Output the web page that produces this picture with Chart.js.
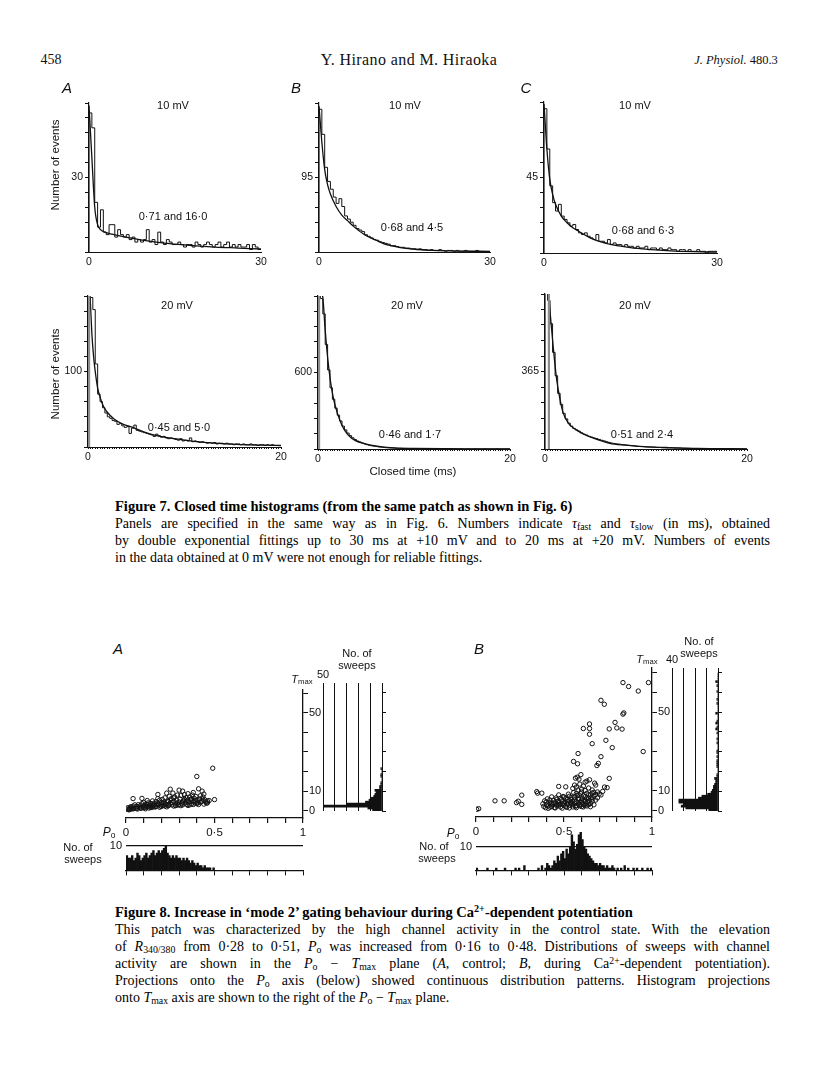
<!DOCTYPE html>
<html>
<head>
<meta charset="utf-8">
<script src="https://cdn.jsdelivr.net/npm/chart.js@4.4.1/dist/chart.umd.min.js"></script>
<style>
  body { margin: 0; background: #fff; }
  #page { position: relative; width: 816px; height: 1088px; overflow: hidden; background: #fff;
          font-family: 'Liberation Sans', Arial, sans-serif; color: #111; }
  #page canvas { position: absolute; }
  .t { position: absolute; white-space: nowrap; line-height: 1; }
  .cap { position: absolute; left: 115px; width: 655px; font-family: 'Liberation Serif', 'Times New Roman', serif;
         font-size: 14px; line-height: 17px; color: #000; }
  .cap div { text-align: justify; text-align-last: justify; height: 17px; }
  .cap div.last { text-align-last: left; }
  .cap b { font-weight: bold; font-size: 14.5px; }
  sub { font-size: 0.7em; line-height: 0; vertical-align: -0.25em; }
  sup { font-size: 0.7em; line-height: 0; vertical-align: 0.45em; }
</style>
</head>
<body>
<div id="page"></div>
<script>
/* ===================== DATA ===================== */

// Figure 7: closed time histograms, counts per bin
const BIN_10MV = 0.5;   // ms per bin, 0-30 ms panels
const BIN_20MV = 0.25;  // ms per bin, 0-20 ms panels

const HIST_A10 = [56,50,20,10,17,8,7,11,11,6, 9,7,6,7,5,6,4,5,4,5, 9,4,5,3,8,4,3,5,4,3,
                  3,4,3,2,3,3,2,4,3,2, 3,4,3,2,3,4,2,3,4,2, 3,2,3,2,2,3,1,3,2,1];
const HIST_B10 = [182,150,108,90,80,70,62,68,58,46, 42,38,34,30,28,26,22,20,18,16, 15,13,12,11,10,8,8,7,6,6,
                  5,5,4,4,3,4,3,3,2,3, 2,2,3,2,1,2,2,1,2,1, 1,2,1,1,1,2,1,1,1,1];
const HIST_C10 = [86,62,40,30,25,29,22,20,18,16, 17,14,12,11,12,10,9,8,11,7, 7,6,8,5,6,5,5,4,5,4,
                  4,3,4,3,3,4,2,3,3,2, 3,2,2,3,2,2,1,2,2,1, 2,1,1,2,1,1,0,1,1,1];
const HIST_A20 = [190,198,182,110,70,60,52,45,40,38, 35,34,30,31,28,26,27,18,25,29, 22,21,20,19,18,17,16,14,17,15,
                  13,14,12,11,12,11,10,9,11,8, 9,8,12,7,8,7,6,7,6,5, 6,5,6,4,5,5,4,5,4,4,
                  3,4,4,3,4,3,3,4,3,3, 2,3,3,2,3,2,3,2,2,2];
const HIST_B20 = [1250,1180,1060,820,620,480,390,320,265,220, 180,150,125,105,88,75,63,55,47,40,
                  34,29,25,22,19,16,14,12,10,9, 8,7,6,5,5,4,4,3,3,3, 2,2,2,2,1,2,1,1,1,1,
                  1,1,1,0,1,1,0,1,0,1, 0,0,1,0,0,1,0,0,0,1, 0,0,0,0,1,0,0,0,0,0];
const HIST_C20 = [760,700,590,455,345,262,210,168,142,122, 108,97,90,84,76,70,66,60,56,52,
                  49,45,41,38,34,31,28,26,24,23, 21,20,18,17,16,15,13,12,12,11, 10,9,9,8,7,7,6,6,5,5,
                  5,4,4,4,3,3,3,3,2,2, 2,2,2,2,1,1,1,1,1,1, 1,1,1,1,1,0,1,0,1,0];

// grey first-bin spikes of the 20 mV panels (bin index, count)
const SPIKE_BIN_20 = [0, 0, 1];
const SPIKE_VAL_20 = [240, 1300, 800];

// double exponential fits (ms, events)
const FIT_X_A10 = [0,0.5,1,1.5,2,3,4,6,9,12,15,18,22,26,30];
const FIT_Y_A10 = [59,38,18,11,9,7.8,7.2,6.2,4.9,3.9,3.2,2.6,2.0,1.6,1.2];
const FIT_X_B10 = [0,0.5,1,1.5,2,3,4,5,6,8,10,12,14,17,20,25,30];
const FIT_Y_B10 = [186,140,105,86,74,58,47,40,33,22,15,9,6,3.5,2,1,0.5];
const FIT_X_C10 = [0,0.5,1,1.5,2,3,4,5,6,8,10,12,15,18,22,26,30];
const FIT_Y_C10 = [89,62,44,35,29,22,18,15,13,9,6.5,4.8,3.2,2.2,1.3,0.8,0.5];
const FIT_X_A20 = [0.2,0.4,0.6,0.8,1,1.3,1.6,2,2.7,3.5,4.4,5,6,7,9,11,13,16,20];
const FIT_Y_A20 = [205,150,117,95,78,64,54,46,37,31,27,24,19,15.5,11,7.5,5,3.2,2];
const FIT_X_B20 = [0.3,0.5,0.75,1,1.3,1.6,2,2.5,3,3.5,4,4.75,5.5,6.5,8,10,13,16,20];
const FIT_Y_B20 = [1230,1190,930,720,530,400,285,185,123,85,62,44,30,18,9,5,2,1,0.5];
const FIT_X_C20 = [0.3,0.5,0.8,1.15,1.5,1.8,2.3,3.1,4,4.8,5.6,6.4,8,9.7,12,15,20];
const FIT_Y_C20 = [760,646,487,329,230,170,122,90,66,51,38,27,18,11,7,3,1];

// axis ranges / labelled ticks
const Y_MAX_10 = [60, 190, 90];
const Y_TICK_10 = [30, 95, 45];
const Y_MAX_20 = [200, 1200, 730];
const Y_TICK_20 = [100, 600, 365];
const FITS_10 = ['0·71 and 16·0', '0·68 and 4·5', '0·68 and 6·3'];
const FITS_20 = ['0·45 and 5·0', '0·46 and 1·7', '0·51 and 2·4'];

// Figure 8: sweeps in the Po - Tmax plane  [Po, Tmax]
const SWEEPS_A = [
  [0.005,0.8],[0.01,1.5],[0.015,0.5],[0.02,1.2],[0.025,2.0],[0.03,0.9],[0.035,1.6],[0.04,2.4],[0.045,1.1],[0.05,3.0],[0.04,6.2],[0.03,1.9],
  [0.055,1.4],[0.06,2.2],[0.065,0.9],[0.07,3.1],[0.075,1.8],[0.08,2.6],[0.085,1.2],[0.09,3.6],[0.095,2.0],[0.1,1.5],[0.09,6.3],[0.1,4.2],
  [0.105,2.8],[0.11,1.7],[0.115,3.4],[0.12,2.1],[0.125,4.0],[0.13,1.4],[0.135,2.9],[0.14,3.7],[0.145,2.2],[0.15,5.0],[0.12,5.2],[0.14,1.6],
  [0.155,2.6],[0.16,3.9],[0.165,1.9],[0.17,4.6],[0.175,2.9],[0.18,8.3],[0.185,3.3],[0.19,5.4],[0.195,2.4],[0.2,4.1],[0.18,6.2],[0.2,3.0],[0.17,2.2],
  [0.205,5.8],[0.21,2.7],[0.215,4.4],[0.22,6.6],[0.225,3.2],[0.23,9.0],[0.235,5.0],[0.24,2.6],[0.245,7.4],[0.25,11.0],[0.25,3.8],[0.22,3.6],[0.24,4.7],
  [0.255,6.1],[0.26,3.0],[0.265,9.0],[0.27,4.9],[0.275,7.0],[0.28,3.4],[0.285,5.6],[0.29,8.0],[0.295,2.9],[0.30,10.5],[0.3,4.5],[0.27,6.5],
  [0.305,6.0],[0.31,7.8],[0.315,3.6],[0.32,10.0],[0.325,5.1],[0.33,8.2],[0.335,4.0],[0.34,6.7],[0.345,3.2],[0.35,8.7],[0.35,5.5],[0.32,4.6],
  [0.355,4.3],[0.36,7.0],[0.365,5.8],[0.37,3.5],[0.375,8.0],[0.38,4.8],[0.385,6.4],[0.39,3.9],[0.395,7.3],[0.40,17.5],[0.40,5.5],[0.38,9.3],
  [0.405,4.2],[0.41,11.2],[0.415,6.0],[0.42,7.6],[0.43,10.0],[0.43,4.9],[0.435,7.0],[0.44,8.5],[0.445,5.6],[0.45,4.5],[0.455,3.9],[0.46,4.0],
  [0.47,5.2],[0.49,21.7],[0.50,5.7],
  [0.02,0.6],[0.04,1.0],[0.06,1.2],[0.08,1.6],[0.1,2.4],[0.12,2.9],[0.14,2.6],[0.16,2.8],[0.18,3.6],[0.2,2.2],[0.22,2.4],[0.24,3.2],
  [0.26,4.2],[0.28,2.6],[0.3,3.2],[0.32,3.0],[0.34,5.0],[0.36,3.0],[0.38,3.2],[0.4,3.6],[0.42,4.3],[0.44,3.4],[0.46,5.0],[0.11,1.0],
  [0.13,2.3],[0.15,1.8],[0.17,3.3],[0.19,1.8],[0.21,3.8],[0.23,2.0],[0.25,5.4],[0.27,2.4],[0.29,4.0],[0.31,2.6],[0.33,5.8],[0.35,2.7],
  [0.37,6.0],[0.39,5.0],[0.41,3.2],[0.43,6.0]
];
const SWEEPS_B = [
  [0.98,65],[0.835,65],[0.867,63],[0.922,60.7],[0.71,56],[0.729,54],[0.835,49],[0.84,49.6],[0.79,44.8],[0.645,44],[0.645,41.7],[0.645,38.8],
  [0.61,41.7],[0.80,42],[0.757,41.5],[0.83,41.4],[0.738,35.7],[0.66,34],[0.774,32],[0.95,30],[0.58,29],[0.71,27.4],[0.554,25],[0.577,23.8],
  [0.695,24],[0.687,22.9],[0.596,18.3],[0.757,16.4],[0.645,15.7],[0.565,16.5],[0.575,17],[0.585,16],[0.62,14.5],[0.63,15],[0.674,14],[0.68,13],
  [0.73,12],[0.745,11.7],[0.47,12.3],[0.51,12.1],[0.345,9.7],[0.35,8.9],[0.374,8.9],[0.26,7.9],[0.23,4.1],[0.24,4.8],[0.26,3.2],[0.16,5],
  [0.108,5],[0.004,0.7],[0.015,1],
  [0.56,13],[0.57,12],[0.59,13.5],[0.60,11],[0.61,12.5],[0.64,11.5],[0.66,10.5],[0.69,9.5],[0.70,8.5],[0.68,8.2],[0.66,9],[0.72,9.8],
  [0.71,8],[0.62,10.2],[0.58,10.5],[0.55,11.3],
  [0.38,3.5],[0.385,2.2],[0.39,5],[0.395,1.5],[0.40,3],[0.405,6],[0.41,2.5],[0.415,4.2],[0.42,1.8],[0.425,3.6],[0.43,7],[0.435,2.9],
  [0.44,5.3],[0.445,1.6],[0.45,3.9],[0.455,6.5],[0.46,2.4],[0.465,4.7],[0.47,8],[0.475,3.1],[0.48,1.9],[0.485,5.6],[0.49,3.5],[0.495,7.2],
  [0.50,2.6],[0.505,4.4],[0.51,6.3],[0.515,1.7],[0.52,3.3],[0.525,8.4],[0.53,5],[0.535,2.7],[0.54,4.1],[0.545,6.8],[0.55,3],[0.555,9.2],
  [0.56,5.5],[0.565,2.2],[0.57,4.6],[0.575,7.5],[0.58,3.4],[0.585,5.9],[0.59,2.5],[0.595,8.6],[0.60,4.3],[0.605,6.2],[0.61,3.1],[0.615,5],
  [0.62,7.1],[0.625,3.8],[0.63,6],[0.635,4.5],[0.64,8.1],[0.645,5.2],[0.65,3.6],[0.655,6.7],[0.66,4.8],[0.67,7.5],[0.68,5.4],[0.69,6.5],
  [0.40,4.5],[0.43,3.8],[0.46,5.8],[0.49,4.9],[0.52,5.7],[0.55,4.8],[0.58,6.3],[0.61,7.6],[0.64,6.4],[0.47,2.9],[0.50,6.9],[0.53,7.3],
  [0.56,3.9],[0.59,4.2],[0.62,2.7],[0.44,4],[0.57,8.7],[0.60,9.5],[0.65,8],[0.67,9.3],
  [0.41,1.2],[0.43,2.1],[0.45,1.4],[0.47,4.1],[0.49,1.3],[0.51,2.2],[0.53,1.4],[0.55,1.9],[0.57,1.5],[0.59,3.2],[0.61,1.9],[0.63,2.4],
  [0.65,2.0],[0.67,3.0],[0.5,3.8],[0.52,4.6],[0.54,5.8],[0.56,6.9],[0.58,7.8],[0.6,5.3],[0.62,4.8],[0.63,8.8],[0.66,5.9],[0.48,6.3],
  [0.46,3.3],[0.42,5.4],[0.54,3.5],[0.57,2.6],[0.6,2.1],[0.64,3]
];

// projections onto Po (0.01 bins) and Tmax (1 ms bins)
const PO_BIN = 0.01;
const PO_HIST_A = [6,5,5,6,4,5,7,6,4,5, 6,7,5,6,7,8,6,7,8,7, 8,9,10,7,6,5,6,5,6,5,
                   5,4,5,4,5,4,3,4,3,2, 3,2,2,1,2,1,1,1,0,1];
const PO_HIST_B = [1,0,0,0,0,0,1,0,0,0, 0,1,0,0,0,0,1,0,0,0, 0,0,1,0,1,0,0,2,0,0, 0,0,0,0,0,1,0,2,0,1,
                   3,2,1,2,4,3,6,4,7,8, 5,9,7,10,15,12,9,11,15,16, 13,10,9,7,6,5,4,3,3,2,
                   3,2,2,1,2,1,1,2,1,0, 1,0,1,0,2,0,1,0,0,1, 0,1,0,0,1,0,0,1,0,1];
const T_BIN = 1;
const T_HIST_A = [8,12,55,30,14,11,9,7,6,5, 6,2,2,1,1,0,0,1,1,0, 0,1];
const T_HIST_B = [8,28,32,30,34,34,17,14,9,6, 5,4,4,3,2,2,3,1,1,0, 0,0,1,1,1,1,0,1,0,1,
                  1,0,0,0,1,0,1,0,0,1, 0,2,1,0,2,1,0,0,0,2, 0,0,0,0,1,0,1,0,0,0, 1,0,0,1,0,2,0,0,0,0];
const T_COUNT_MAX = [50, 40];
const PO_LABELS = { 0: '0', 5: '0·5', 10: '1' };
const TMAX_LABELS = [0, 10, 50];

/* ===================== HELPERS ===================== */

const page = document.getElementById('page');
const INK = '#111';

Chart.defaults.font.family = "'Liberation Sans', Arial, sans-serif";
Chart.defaults.font.size = 10.5;
Chart.defaults.color = INK;

function canvasAt(left, top, w, h) {
  const c = document.createElement('canvas');
  c.width = w; c.height = h;
  c.style.left = left + 'px'; c.style.top = top + 'px';
  c.style.width = w + 'px'; c.style.height = h + 'px';
  page.appendChild(c);
  return c;
}

function txt(html, cx, cy, size, extra) {
  const d = document.createElement('div');
  d.className = 't';
  d.innerHTML = html;
  d.style.left = cx + 'px';
  d.style.top = cy + 'px';
  d.style.fontSize = size + 'px';
  d.style.transform = 'translate(-50%,-50%)' + (extra && extra.rot ? ' rotate(-90deg)' : '');
  if (extra && extra.css) Object.assign(d.style, extra.css);
  page.appendChild(d);
}

function ticksFrom(a, b, step) {
  const out = [];
  const n = Math.round((b - a) / step);
  for (let k = 0; k <= n; k++) out.push({ value: +(a + k * step).toFixed(6) });
  return out;
}

function stepPoints(vals, w) {
  const pts = [{ x: 0, y: 0 }];
  vals.forEach((v, i) => pts.push({ x: i * w, y: v }));
  pts.push({ x: vals.length * w, y: vals[vals.length - 1] });
  return pts;
}

function baseOptions() {
  return {
    responsive: false, animation: false, devicePixelRatio: 1, events: [],
    plugins: { legend: { display: false }, tooltip: { enabled: false } }
  };
}

/* ===================== FIGURE 7 ===================== */

function histPanel(box, hist, bin, fitX, fitY, yMax, yTick, xMax, spike) {
  const YW = 36, XH = 20, PT = 12, PR = 14;
  const [ax, at, ab, ar] = box;
  const cv = canvasAt(ax - YW, at - PT, YW + (ar - ax) + PR, PT + (ab - at) + XH);
  const fine = xMax === 20;
  const datasets = [];
  if (spike) {
    const x0 = spike[0] * bin, x1 = (spike[0] + 1) * bin;
    datasets.push({ data: [{x:x0,y:0},{x:x0,y:spike[1]},{x:x1,y:spike[1]},{x:x1,y:0}],
      borderWidth: 0, backgroundColor: '#8c8c8c', fill: 'origin', pointRadius: 0 });
  }
  datasets.push({ data: stepPoints(hist, bin), stepped: true, borderColor: INK, borderWidth: 1,
    pointRadius: 0, fill: false });
  datasets.push({ data: fitX.map((x, i) => ({ x, y: fitY[i] })), cubicInterpolationMode: 'monotone',
    borderColor: INK, borderWidth: 1.3, pointRadius: 0, fill: false });

  const opts = baseOptions();
  opts.layout = { padding: { top: PT, right: PR, left: 0, bottom: 0 } };
  opts.scales = {
    x: {
      type: 'linear', min: 0, max: xMax,
      afterBuildTicks: a => { a.ticks = fine ? ticksFrom(0, xMax, 0.25) : [{value: 0}, {value: xMax}]; },
      afterFit: a => { a.height = XH; },
      ticks: { autoSkip: false, maxRotation: 0, minRotation: 0, padding: fine ? 2 : 4,
               callback: v => (v === 0 || v === xMax) ? String(v) : '' },
      grid: { display: fine, drawOnChartArea: false, drawTicks: fine, tickLength: 2, color: INK },
      border: { display: true, color: INK, width: 1 }
    },
    y: {
      min: 0, max: yMax,
      afterBuildTicks: a => { a.ticks = ticksFrom(0, yMax, yTick / 5); },
      afterFit: a => { a.width = YW; },
      ticks: { autoSkip: false, padding: 2,
               callback: v => Math.abs(v - yTick) < 1e-6 ? String(yTick) : '' },
      grid: { drawOnChartArea: false, tickLength: 4, color: INK },
      border: { display: true, color: INK, width: 1.2 }
    }
  };
  new Chart(cv, { type: 'line', data: { datasets }, options: opts });
}

const BOX_10 = [[89, 103, 252, 261], [319, 103, 252, 490], [544, 102, 253, 717]];
const BOX_20 = [[88, 296, 447, 281], [318, 296, 449, 510], [545, 294, 449, 747]];
const H10 = [HIST_A10, HIST_B10, HIST_C10];
const H20 = [HIST_A20, HIST_B20, HIST_C20];
const FX10 = [FIT_X_A10, FIT_X_B10, FIT_X_C10], FY10 = [FIT_Y_A10, FIT_Y_B10, FIT_Y_C10];
const FX20 = [FIT_X_A20, FIT_X_B20, FIT_X_C20], FY20 = [FIT_Y_A20, FIT_Y_B20, FIT_Y_C20];

for (let i = 0; i < 3; i++) {
  histPanel(BOX_10[i], H10[i], BIN_10MV, FX10[i], FY10[i], Y_MAX_10[i], Y_TICK_10[i], 30, null);
  histPanel(BOX_20[i], H20[i], BIN_20MV, FX20[i], FY20[i], Y_MAX_20[i], Y_TICK_20[i], 20,
            [SPIKE_BIN_20[i], SPIKE_VAL_20[i]]);
}

/* ===================== FIGURE 8 ===================== */

function scatterPanel(box, pts, yMin, yMax, yTop) {
  const PL = 8, PT = 12, YW = 24, XH = 22;
  const [l, t, r, b] = box;
  const cv = canvasAt(l - PL, t - PT, PL + (r - l) + YW, PT + (b - t) + XH);
  const opts = baseOptions();
  opts.layout = { padding: { left: PL, top: PT, right: 0, bottom: 0 } };
  opts.scales = {
    x: {
      type: 'linear', min: 0, max: 1,
      afterBuildTicks: a => { a.ticks = ticksFrom(0, 1, 0.1); },
      afterFit: a => { a.height = XH; },
      ticks: { autoSkip: false, maxRotation: 0, minRotation: 0, padding: 3, font: { size: 11.5 },
               callback: v => PO_LABELS[Math.round(v * 10)] || '' },
      grid: { drawOnChartArea: false, tickLength: 5, color: INK, lineWidth: 1.2 },
      border: { color: INK, width: 1.3 }
    },
    y: {
      type: 'linear', position: 'right', min: yMin, max: yMax,
      afterBuildTicks: a => { a.ticks = ticksFrom(0, yTop, 10); },
      afterFit: a => { a.width = YW; },
      ticks: { autoSkip: false, padding: 1, font: { size: 11 },
               callback: v => TMAX_LABELS.includes(Math.round(v)) ? String(Math.round(v)) : '' },
      grid: { drawOnChartArea: false, tickLength: 5, color: INK },
      border: { color: INK, width: 1.3 }
    }
  };
  new Chart(cv, {
    type: 'scatter',
    data: { datasets: [{ data: pts.map(p => ({ x: p[0], y: p[1] })), pointRadius: 2.2, pointBorderWidth: 1,
                         pointBorderColor: INK, pointBackgroundColor: 'rgba(0,0,0,0)' }] },
    options: opts
  });
}

function tmaxHist(box, counts, yMax, cMax) {
  const PL = 10, XH = 14, YW = 8, PB = 10;
  const [l, t, r, b] = box;
  const cv = canvasAt(l - PL, t - XH, PL + (r - l) + YW, XH + (b - t) + PB);
  const opts = baseOptions();
  opts.indexAxis = 'y';
  opts.layout = { padding: { left: PL, top: 0, right: 0, bottom: PB } };
  opts.scales = {
    x: {
      type: 'linear', position: 'top', reverse: true, min: 0, max: cMax,
      afterBuildTicks: a => { a.ticks = ticksFrom(0, cMax, 10); },
      afterFit: a => { a.height = XH; },
      ticks: { autoSkip: false, maxRotation: 0, padding: 1, font: { size: 11 },
               callback: v => v === cMax ? String(cMax) : '' },
      grid: { drawOnChartArea: true, drawTicks: false, color: INK, lineWidth: 1 },
      border: { display: false }
    },
    y: {
      type: 'linear', position: 'right', min: 0, max: yMax, offset: false,
      afterBuildTicks: a => { a.ticks = ticksFrom(0, Math.floor(yMax / 10) * 10, 10); },
      afterFit: a => { a.width = YW; },
      ticks: { callback: () => '' },
      grid: { drawOnChartArea: false, tickLength: 4, color: INK, offset: false },
      border: { display: false }
    }
  };
  new Chart(cv, {
    type: 'bar',
    data: { datasets: [{ data: counts.map((c, i) => ({ x: c, y: (i + 0.5) * T_BIN })), backgroundColor: INK,
                         borderWidth: 0, barPercentage: 1, categoryPercentage: 1, clip: 0 }] },
    options: opts
  });
}

function poHist(box, counts, yMax) {
  const YW = 20, XH = 8, PT = 12, PR = 6;
  const [l, t, r, b] = box;
  const cv = canvasAt(l - YW, t - PT, YW + (r - l) + PR, PT + (b - t) + XH);
  const opts = baseOptions();
  opts.layout = { padding: { left: 0, top: PT, right: PR, bottom: 0 } };
  opts.scales = {
    x: {
      type: 'linear', min: 0, max: 1, offset: false,
      afterBuildTicks: a => { a.ticks = ticksFrom(0, 1, 0.1); },
      afterFit: a => { a.height = XH; },
      ticks: { autoSkip: false, maxRotation: 0, callback: () => '' },
      grid: { drawOnChartArea: false, tickLength: 5, color: INK, offset: false },
      border: { color: INK, width: 1.2 }
    },
    y: {
      min: 0, max: yMax,
      afterBuildTicks: a => { a.ticks = [{ value: 10 }]; },
      afterFit: a => { a.width = YW; },
      ticks: { padding: 4, font: { size: 11 } },
      grid: { drawOnChartArea: true, drawTicks: false, color: INK, lineWidth: 1.2 },
      border: { display: false }
    }
  };
  new Chart(cv, {
    type: 'bar',
    data: { datasets: [{ data: counts.map((c, i) => ({ x: (i + 0.5) * PO_BIN, y: c })), backgroundColor: INK,
                         borderWidth: 0, barPercentage: 1, categoryPercentage: 1, clip: 0 }] },
    options: opts
  });
}

scatterPanel([126, 690, 303, 818], SWEEPS_A, -3.7, 61.6, 60);
scatterPanel([476, 668, 652, 817], SWEEPS_B, -3.2, 72.4, 70);
tmaxHist([323, 683, 382, 811], T_HIST_A, 65, T_COUNT_MAX[0]);
tmaxHist([672, 668, 718, 811], T_HIST_B, 72.4, T_COUNT_MAX[1]);
poHist([126, 831, 303, 873], PO_HIST_A, 16);
poHist([476, 830, 652, 873], PO_HIST_B, 17);

/* ===================== TEXT ===================== */

// running head
txt('458', 51, 60, 14, { css: { fontFamily: "'Liberation Serif', serif" } });
txt('Y. Hirano and M. Hiraoka', 409, 60, 16, { css: { fontFamily: "'Liberation Serif', serif", letterSpacing: '0.4px' } });
txt('<i>J. Physiol.</i> 480.3', 736, 60, 12.5, { css: { fontFamily: "'Liberation Serif', serif" } });

// figure 7 labels
txt('<i>A</i>', 67, 87, 15);
txt('<i>B</i>', 296, 87, 15);
txt('<i>C</i>', 526, 87, 15);
[[173, 105], [405, 105], [635, 105]].forEach(p => txt('10 mV', p[0], p[1], 11));
[[177, 305], [407, 305], [635, 305]].forEach(p => txt('20 mV', p[0], p[1], 11));
[[173, 216], [412, 227], [643, 230]].forEach((p, i) => txt(FITS_10[i], p[0], p[1], 11));
[[179, 427], [410, 434], [642, 434]].forEach((p, i) => txt(FITS_20[i], p[0], p[1], 11));
txt('Number of events', 56, 165, 11.5, { rot: true });
txt('Number of events', 56, 374, 11.5, { rot: true });
txt('Closed time (ms)', 413, 472, 11.5);

// figure 8 labels
txt('<i>A</i>', 118, 648, 15);
txt('<i>B</i>', 479, 648, 15);
txt('No. of', 357, 653, 11);
txt('sweeps', 357, 665, 11);
txt('<i>T</i><sub>max</sub>', 302, 679, 11);
txt('No. of', 699, 641, 11);
txt('sweeps', 699, 653, 11);
txt('<i>T</i><sub>max</sub>', 647, 659, 11);
txt('<i>P</i><sub>o</sub>', 109, 832, 12);
txt('<i>P</i><sub>o</sub>', 453, 833, 12);
txt('No. of', 78, 847, 11);
txt('sweeps', 83, 859, 11);
txt('No. of', 434, 846, 11);
txt('sweeps', 437, 858, 11);

// captions
function caption(top, lines) {
  const d = document.createElement('div');
  d.className = 'cap';
  d.style.top = top + 'px';
  d.innerHTML = lines.map((l, i) => `<div class="${i === lines.length - 1 || i === 0 ? 'last' : ''}">${l}</div>`).join('');
  page.appendChild(d);
}

caption(498, [
  '<b>Figure 7. Closed time histograms (from the same patch as shown in Fig. 6)</b>',
  'Panels are specified in the same way as in Fig. 6. Numbers indicate <i>τ</i><sub>fast</sub> and <i>τ</i><sub>slow</sub> (in ms), obtained',
  'by double exponential fittings up to 30 ms at +10 mV and to 20 ms at +20 mV. Numbers of events',
  'in the data obtained at 0 mV were not enough for reliable fittings.'
]);

caption(904, [
  '<b>Figure 8. Increase in ‘mode 2’ gating behaviour during Ca<sup>2+</sup>-dependent potentiation</b>',
  'This patch was characterized by the high channel activity in the control state. With the elevation',
  'of <i>R</i><sub>340/380</sub> from 0·28 to 0·51, <i>P</i><sub>o</sub> was increased from 0·16 to 0·48. Distributions of sweeps with channel',
  'activity are shown in the <i>P</i><sub>o</sub> − <i>T</i><sub>max</sub> plane (<i>A</i>, control; <i>B</i>, during Ca<sup>2+</sup>-dependent potentiation).',
  'Projections onto the <i>P</i><sub>o</sub> axis (below) showed continuous distribution patterns. Histogram projections',
  'onto <i>T</i><sub>max</sub> axis are shown to the right of the <i>P</i><sub>o</sub> − <i>T</i><sub>max</sub> plane.'
]);
</script>
</body>
</html>
